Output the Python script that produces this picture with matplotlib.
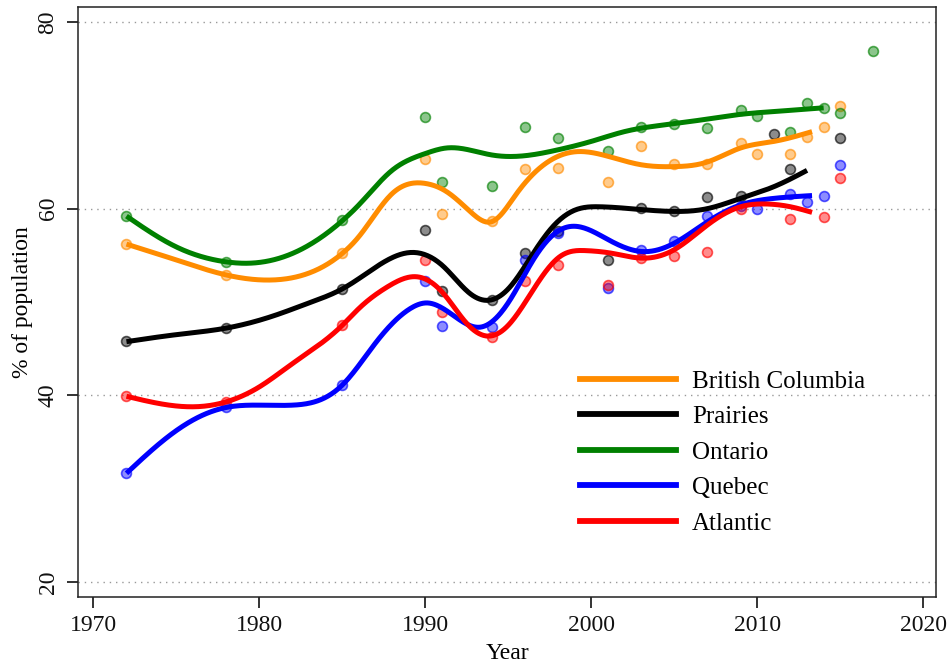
import numpy as np
import matplotlib
matplotlib.use("Agg")
import matplotlib.pyplot as plt
from matplotlib.lines import Line2D

# ---------------- data ----------------
regions = ["British Columbia", "Prairies", "Ontario", "Quebec", "Atlantic"]
colors = ["#FF8C00", "#000000", "#008000", "#0000FF", "#FF0000"]

# observed survey points
bc_years = [1972, 1978, 1985, 1990, 1991, 1994, 1996, 1998, 2001, 2003, 2005, 2007, 2009, 2010, 2012, 2013, 2014, 2015]
bc_values = [56.2, 52.9, 55.2, 65.3, 59.4, 58.7, 64.2, 64.3, 62.8, 66.7, 64.8, 64.8, 67.0, 65.9, 65.9, 67.7, 68.7, 71.0]

pr_years = [1972, 1978, 1985, 1990, 1991, 1994, 1996, 1998, 2001, 2003, 2005, 2007, 2009, 2011, 2012, 2015]
pr_values = [45.8, 47.2, 51.4, 57.7, 51.2, 50.2, 55.3, 57.6, 54.5, 60.1, 59.7, 61.2, 61.3, 68.0, 64.2, 67.6]

on_years = [1972, 1978, 1985, 1990, 1991, 1994, 1996, 1998, 2001, 2003, 2005, 2007, 2009, 2010, 2012, 2013, 2014, 2015, 2017]
on_values = [59.2, 54.3, 58.8, 69.8, 62.8, 62.4, 68.7, 67.6, 66.2, 68.7, 69.1, 68.6, 70.6, 69.9, 68.2, 71.3, 70.8, 70.2, 76.9]

qc_years = [1972, 1978, 1985, 1990, 1991, 1994, 1996, 1998, 2001, 2003, 2005, 2007, 2009, 2010, 2012, 2013, 2014, 2015]
qc_values = [31.7, 38.7, 41.1, 52.2, 47.4, 47.3, 54.5, 57.4, 51.5, 55.6, 56.5, 59.2, 60.3, 60.0, 61.6, 60.75, 61.3, 64.7]

at_years = [1972, 1978, 1985, 1990, 1991, 1994, 1996, 1998, 2001, 2003, 2005, 2007, 2009, 2012, 2014, 2015]
at_values = [39.9, 39.3, 47.5, 54.5, 48.9, 46.3, 52.2, 54.0, 51.8, 54.7, 54.9, 55.4, 60.0, 58.9, 59.1, 63.25]

# smoothed trend
bc_fit_years = [1972, 1975, 1978, 1980.6, 1983, 1985, 1986, 1988, 1990, 1991.3, 1992.7, 1994, 1995.5, 1997.3, 1999.1, 2000.7, 2003, 2005, 2007, 2009, 2011, 2013.3]
bc_fit_values = [56.2, 54.5, 52.9, 52.35, 53.1, 55.2, 57.0, 61.6, 62.7, 61.8, 59.7, 58.6, 61.6, 64.9, 66.1, 65.75, 64.7, 64.5, 65.0, 66.5, 67.2, 68.25]

pr_fit_years = [1972, 1975, 1978, 1981, 1983, 1985, 1986, 1989.1, 1991.1, 1992.7, 1993.9, 1995.1, 1996.5, 1997.7, 1999.1, 2000.5, 2003, 2005, 2007, 2009, 2011, 2013]
pr_fit_values = [45.75, 46.5, 47.2, 48.6, 49.9, 51.4, 52.5, 55.3, 53.8, 50.9, 50.2, 51.6, 55.2, 58.1, 59.9, 60.2, 59.9, 59.7, 60.0, 61.1, 62.35, 64.1]

on_fit_years = [1972, 1975, 1978, 1979, 1982, 1985, 1986, 1988, 1990, 1991.3, 1994, 1995.5, 1998, 2000, 2002, 2005, 2007, 2009, 2011, 2014]
on_fit_values = [59.2, 55.9, 54.3, 54.15, 55.2, 58.7, 60.4, 64.1, 65.9, 66.5, 65.75, 65.6, 66.3, 67.2, 68.25, 69.1, 69.6, 70.1, 70.4, 70.8]

qc_fit_years = [1972, 1974, 1976, 1978, 1980, 1982, 1983.65, 1985, 1987, 1989.1, 1990.1, 1991.5, 1993.3, 1995.1, 1996.5, 1998.1, 1999.1, 2001.1, 2003.1, 2005, 2007, 2009, 2011, 2013.3]
qc_fit_values = [31.65, 34.85, 37.35, 38.7, 38.95, 38.95, 39.5, 41.1, 45.6, 49.3, 49.9, 48.8, 47.3, 50.2, 54.5, 57.7, 58.1, 56.6, 55.4, 56.3, 58.6, 60.4, 61.1, 61.4]

at_fit_years = [1972, 1976.4, 1978, 1980, 1982, 1985, 1986, 1987.7, 1989.5, 1991.1, 1992.5, 1993.9, 1995.1, 1996.5, 1998.1, 1999.7, 2001.3, 2003, 2005, 2007, 2009, 2010.5, 2012, 2013.3]
at_fit_values = [39.9, 38.8, 39.3, 40.9, 43.4, 47.5, 49.3, 51.6, 52.7, 50.9, 47.7, 46.35, 47.7, 51.3, 54.85, 55.5, 55.2, 54.7, 55.6, 58.25, 60.2, 60.5, 60.2, 59.6]

x_ticks = [1970, 1980, 1990, 2000, 2010, 2020]
y_ticks = [20, 40, 60, 80]


def natural_spline(x, y, xs):
    x = np.asarray(x, float)
    y = np.asarray(y, float)
    n = len(x)
    h = np.diff(x)
    A = np.zeros((n, n))
    r = np.zeros(n)
    A[0, 0] = 1.0
    A[-1, -1] = 1.0
    for i in range(1, n - 1):
        A[i, i - 1] = h[i - 1]
        A[i, i] = 2 * (h[i - 1] + h[i])
        A[i, i + 1] = h[i]
        r[i] = 3 * ((y[i + 1] - y[i]) / h[i] - (y[i] - y[i - 1]) / h[i - 1])
    c = np.linalg.solve(A, r)
    b = (y[1:] - y[:-1]) / h - h * (2 * c[:-1] + c[1:]) / 3
    d = (c[1:] - c[:-1]) / (3 * h)
    idx = np.clip(np.searchsorted(x, xs) - 1, 0, n - 2)
    dx = xs - x[idx]
    return y[idx] + b[idx] * dx + c[idx] * dx ** 2 + d[idx] * dx ** 3


points = [(bc_years, bc_values), (pr_years, pr_values), (on_years, on_values),
          (qc_years, qc_values), (at_years, at_values)]
fits = [(bc_fit_years, bc_fit_values), (pr_fit_years, pr_fit_values), (on_fit_years, on_fit_values),
        (qc_fit_years, qc_fit_values), (at_fit_years, at_fit_values)]

plt.rcParams['font.family'] = ['Liberation Serif', 'DejaVu Serif']
fig = plt.figure(figsize=(9.5, 6.64), dpi=100)
ax = fig.add_axes([0.0821, 0.1009, 0.9032, 0.8886])

for (px, py), col in zip(points, colors):
    ax.scatter(px, py, s=50, facecolor=matplotlib.colors.to_rgba(col, 0.45),
               edgecolor=matplotlib.colors.to_rgba(col, 0.65), linewidth=1.2, zorder=3)

for (fx, fy), col in zip(fits, colors):
    xs = np.linspace(fx[0], fx[-1], 600)
    ax.plot(xs, natural_spline(fx, fy, xs), color=col, lw=3.6, zorder=4,
            solid_capstyle='butt')

ax.set_xlim(1969.08, 2020.77)
ax.set_ylim(18.4, 81.6)
ax.set_xticks(x_ticks)
ax.set_yticks(y_ticks)
for yv in y_ticks:
    ax.axhline(yv, color='#999999', lw=1.0, ls=(0, (1, 3.5)), zorder=1)

ax.tick_params(axis='both', direction='out', length=8, width=1.2, labelsize=17, colors='#111111')
ax.tick_params(axis='x', pad=5)
ax.tick_params(axis='y', pad=6)
for lab in ax.get_yticklabels():
    lab.set_rotation(90)
    lab.set_va('center')
for s in ax.spines.values():
    s.set_linewidth(1.1)
    s.set_color('#222222')

ax.set_xlabel("Year", fontsize=17, labelpad=5)
ax.set_ylabel("% of population", fontsize=17, labelpad=3)

handles = [Line2D([0], [0], color=c, lw=4.2) for c in colors]
leg = ax.legend(handles, regions, loc='upper left', bbox_to_anchor=(580 / 950, 1 - 370 / 664),
                bbox_transform=fig.transFigure, frameon=False, fontsize=18,
                handlelength=3.85, handletextpad=0.62, labelspacing=0.52, borderpad=0, borderaxespad=0)

fig.savefig("out.png", dpi=100)
